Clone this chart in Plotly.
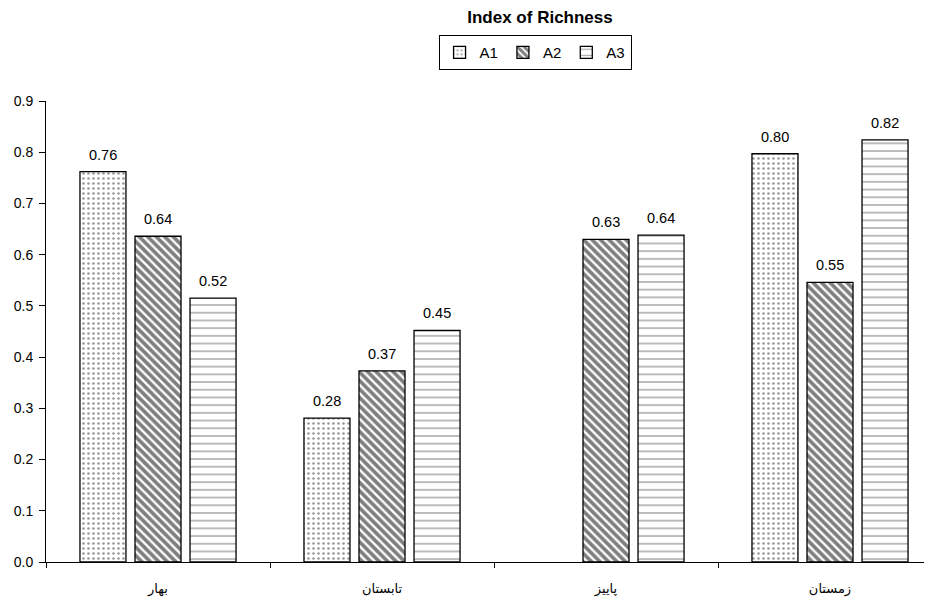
import plotly.graph_objects as go

categories = ["بهار", "تابستان", "پاییز", "زمستان"]
a1 = [0.762, 0.281, None, 0.797]
a2 = [0.636, 0.373, 0.630, 0.546]
a3 = [0.515, 0.452, 0.638, 0.824]
labels_a1 = ["0.76", "0.28", "", "0.80"]
labels_a2 = ["0.64", "0.37", "0.63", "0.55"]
labels_a3 = ["0.52", "0.45", "0.64", "0.82"]
y_ticks = [0.0, 0.1, 0.2, 0.3, 0.4, 0.5, 0.6, 0.7, 0.8, 0.9]

FONT = "Arial, Liberation Sans, DejaVu Sans, sans-serif"
PAGE_OFFSET = 8  # default body margin of the html page

fig = go.Figure()
series = [
    ("A1", a1, labels_a1, dict(shape=".", size=5, solidity=0.22, fgcolor="#333333", bgcolor="white")),
    ("A2", a2, labels_a2, dict(shape="\\", size=6, solidity=0.62, fgcolor="black", bgcolor="white")),
    ("A3", a3, labels_a3, dict(shape="-", size=7.7, solidity=0.2, fgcolor="#555555", bgcolor="white")),
]
slot_px = 55
for i, (name, vals, labs, pat) in enumerate(series):
    fig.add_trace(go.Bar(
        name=name, x=categories, y=vals,
        marker=dict(color="white", line=dict(color="black", width=1.3), pattern=pat),
    ))
    for cat, v, lab in zip(categories, vals, labs):
        if v is None:
            continue
        fig.add_annotation(x=cat, y=v, text=lab, showarrow=False,
                           xanchor="center", yanchor="bottom",
                           xshift=(i - 1) * slot_px, yshift=7,
                           font=dict(family=FONT, size=14.5, color="black"))

fig.update_layout(
    width=932 - PAGE_OFFSET, height=600 - PAGE_OFFSET,
    margin=dict(l=46 - PAGE_OFFSET, r=0, t=101 - PAGE_OFFSET, b=38, autoexpand=False),
    paper_bgcolor="white", plot_bgcolor="white",
    barmode="group", bargap=0.263, bargroupgap=0.164,
    font=dict(family=FONT, size=14, color="black"),
    title=dict(text="<b>Index of Richness</b>", x=(540 - PAGE_OFFSET) / (932 - PAGE_OFFSET),
               xanchor="center", y=1 - (17 - PAGE_OFFSET) / (600 - PAGE_OFFSET),
               yanchor="middle", font=dict(size=17, family=FONT)),
    legend=dict(orientation="h", x=0.552, xanchor="center", y=1.143, yanchor="top",
                bordercolor="black", borderwidth=1, font=dict(size=15, family=FONT),
                itemwidth=30, tracegroupgap=0, traceorder="normal"),
    showlegend=True,
)
fig.update_xaxes(type="category", range=[-0.5, 3.5 - 10 / 224],
                 showline=True, linecolor="black", linewidth=1,
                 ticks="outside", ticklen=5, tickcolor="black", tickson="boundaries",
                 showgrid=False, tickfont=dict(size=13), ticklabelstandoff=14)
fig.update_yaxes(range=[0, 0.9], tickvals=y_ticks, tickformat=".1f",
                 showline=True, linecolor="black", linewidth=1,
                 ticks="outside", ticklen=6, tickcolor="black", ticklabelstandoff=3,
                 showgrid=False, zeroline=False, tickfont=dict(size=14))

fig.write_html("out.html")
